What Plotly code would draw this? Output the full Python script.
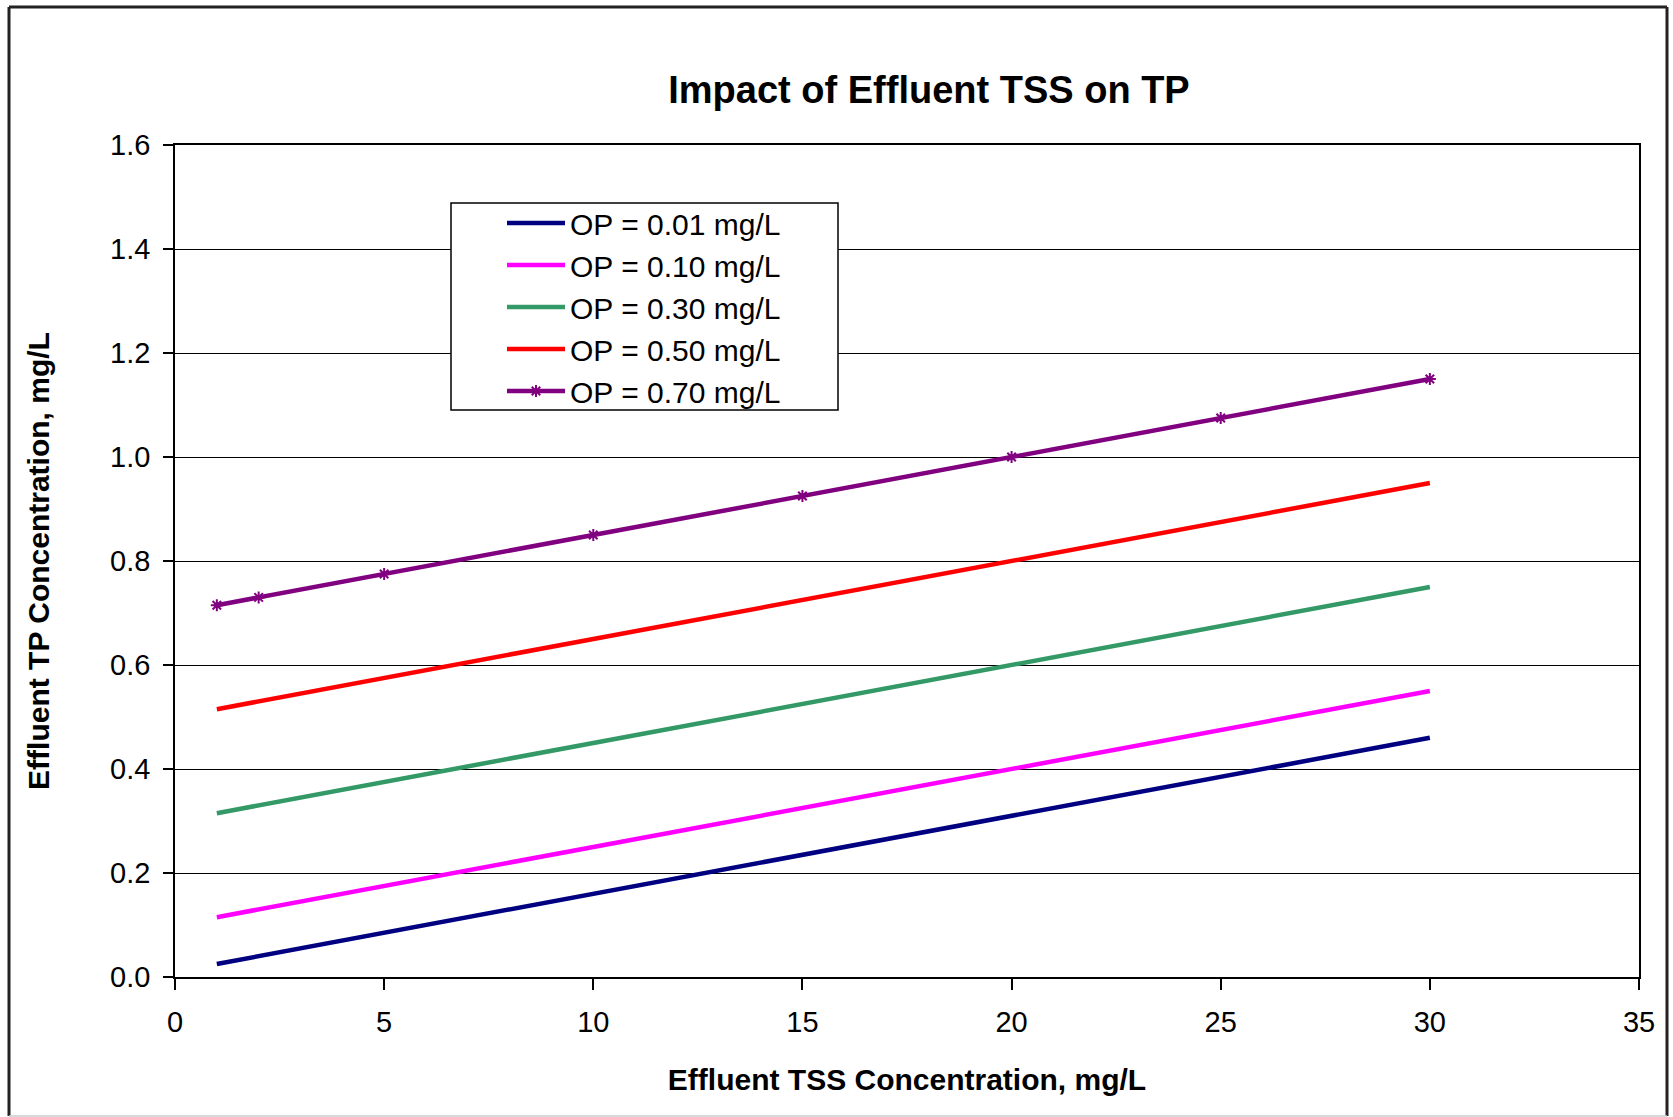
import plotly.graph_objects as go

# Data
tss = [1, 2, 5, 10, 15, 20, 25, 30]
op_001 = [0.025, 0.04, 0.085, 0.16, 0.235, 0.31, 0.385, 0.46]
op_010 = [0.115, 0.13, 0.175, 0.25, 0.325, 0.40, 0.475, 0.55]
op_030 = [0.315, 0.33, 0.375, 0.45, 0.525, 0.60, 0.675, 0.75]
op_050 = [0.515, 0.53, 0.575, 0.65, 0.725, 0.80, 0.875, 0.95]
op_070 = [0.715, 0.73, 0.775, 0.85, 0.925, 1.00, 1.075, 1.15]

series_names = ["OP = 0.01 mg/L", "OP = 0.10 mg/L", "OP = 0.30 mg/L",
                "OP = 0.50 mg/L", "OP = 0.70 mg/L"]
series_values = [op_001, op_010, op_030, op_050, op_070]
series_colors = ["#000080", "#FF00FF", "#339966", "#FF0000", "#800080"]

y_ticks = [0.0, 0.2, 0.4, 0.6, 0.8, 1.0, 1.2, 1.4, 1.6]
x_ticks = [0, 5, 10, 15, 20, 25, 30, 35]

FONT = "Liberation Sans, Arial, sans-serif"

fig = go.Figure()
for name, vals, col in zip(series_names, series_values, series_colors):
    if name.endswith("0.70 mg/L"):
        fig.add_trace(go.Scatter(
            x=tss, y=vals, name=name, mode="lines+markers",
            line=dict(color=col, width=4.5),
            marker=dict(symbol="asterisk-open", size=10,
                        line=dict(color=col, width=2), color=col)))
    else:
        fig.add_trace(go.Scatter(
            x=tss, y=vals, name=name, mode="lines",
            line=dict(color=col, width=4.5)))

W, H = 1673, 1117
L, R, T, B = 175, 34, 145, 140
pw, ph = W - L - R, H - T - B

def px(x):
    return (x - L) / pw

def py(y):
    return (H - B - y) / ph

shapes = [
    # outer frame
    dict(type="line", xref="paper", yref="paper", x0=px(9), x1=px(9), y0=py(7), y1=py(1116),
         line=dict(color="#222222", width=3)),
    dict(type="line", xref="paper", yref="paper", x0=px(9), x1=px(1667), y0=py(7), y1=py(7),
         line=dict(color="#222222", width=3)),
    dict(type="line", xref="paper", yref="paper", x0=px(1667), x1=px(1667), y0=py(7), y1=py(1116),
         line=dict(color="#222222", width=3)),
    dict(type="line", xref="paper", yref="paper", x0=px(9), x1=px(1667), y0=py(1116), y1=py(1116),
         line=dict(color="#cccccc", width=1.5)),
    # legend box
    dict(type="rect", xref="paper", yref="paper", layer="above",
         x0=px(451), x1=px(838), y0=py(410), y1=py(203),
         fillcolor="white", line=dict(color="black", width=1.5)),
]

fig.update_layout(
    width=W, height=H,
    margin=dict(l=L, r=R, t=T, b=B, pad=0),
    paper_bgcolor="white", plot_bgcolor="white",
    font=dict(family=FONT, color="black", size=29),
    title=dict(text="<b>Impact of Effluent TSS on TP</b>",
               font=dict(family=FONT, size=38, color="black"),
               x=px(929), xanchor="center", xref="paper",
               y=1 - 90 / H, yanchor="middle", yref="container"),
    showlegend=True,
    legend=dict(x=px(502), y=py(197), xanchor="left", yanchor="top",
                bgcolor="rgba(0,0,0,0)", borderwidth=0,
                font=dict(family=FONT, size=30, color="black"),
                tracegroupgap=0, itemwidth=58),
    shapes=shapes,
)

fig.update_xaxes(
    range=[0, 35], tickmode="array", tickvals=x_ticks,
    ticktext=[str(v) for v in x_ticks],
    showgrid=False, zeroline=False,
    showline=True, linecolor="black", linewidth=1.5, mirror=True,
    ticks="outside", ticklen=11, tickwidth=1.5, tickcolor="black",
    ticklabelstandoff=7,
    tickfont=dict(family=FONT, size=29, color="black"),
    title=dict(text="<b>Effluent TSS Concentration, mg/L</b>",
               font=dict(family=FONT, size=30, color="black"), standoff=32),
)
fig.update_yaxes(
    range=[0, 1.6], tickmode="array", tickvals=y_ticks,
    ticktext=[f"{v:.1f}" for v in y_ticks],
    showgrid=True, gridcolor="black", gridwidth=1.2, zeroline=False,
    showline=True, linecolor="black", linewidth=1.5, mirror=True,
    ticks="outside", ticklen=10, tickwidth=1.5, tickcolor="black",
    ticklabelstandoff=7,
    tickfont=dict(family=FONT, size=29, color="black"),
    title=dict(text="<b>Effluent TP Concentration, mg/L</b>",
               font=dict(family=FONT, size=30, color="black"), standoff=52),
)

fig.write_html("out.html")
